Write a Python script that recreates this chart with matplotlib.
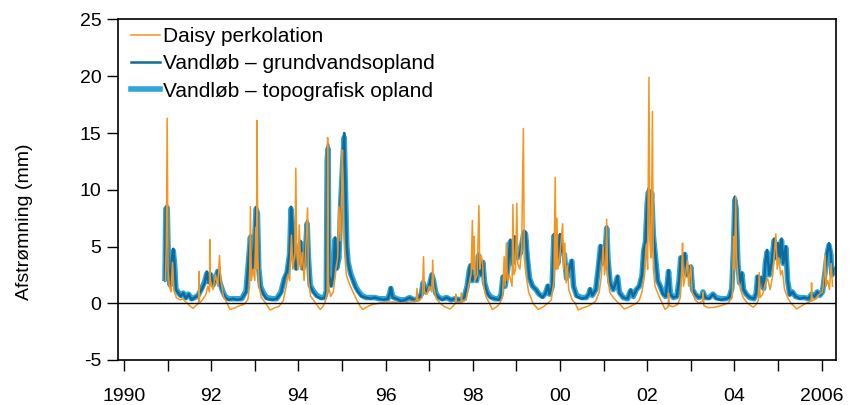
import matplotlib
matplotlib.use("Agg")
import matplotlib.pyplot as plt
from matplotlib.ticker import FixedLocator

plt.rcParams['font.family'] = ['Liberation Sans', 'DejaVu Sans']

# x-akse: år
year_ticks = list(range(1990, 2007))
year_labels = ['1990', '', '92', '', '94', '', '96', '', '98', '', '00', '', '02', '', '04', '', '2006']
y_ticks = [-5, 0, 5, 10, 15, 20, 25]

# Vandløb - grundvandsopland (mørkeblå) og topografisk opland (lyseblå), samme tidspunkter
blue_t = [1990.94, 1990.96, 1990.99, 1991.02, 1991.06, 1991.10, 1991.13, 1991.16, 1991.19, 1991.25,
          1991.30, 1991.36, 1991.42, 1991.48, 1991.55, 1991.62, 1991.70, 1991.78, 1991.85, 1991.90,
          1991.94, 1991.99, 1992.04, 1992.10, 1992.15, 1992.20, 1992.26, 1992.32, 1992.40, 1992.50,
          1992.60, 1992.70, 1992.80, 1992.86, 1992.90, 1992.94, 1992.99, 1993.03, 1993.06, 1993.09,
          1993.13, 1993.20, 1993.27, 1993.40, 1993.50, 1993.60, 1993.68, 1993.74, 1993.80, 1993.83,
          1993.86, 1993.90, 1993.95, 1994.00, 1994.05, 1994.10, 1994.15, 1994.20, 1994.23, 1994.27,
          1994.34, 1994.42, 1994.52, 1994.60, 1994.64, 1994.66, 1994.68, 1994.70, 1994.75, 1994.80,
          1994.84, 1994.88, 1994.93, 1994.97, 1995.02, 1995.05, 1995.08, 1995.11, 1995.14, 1995.20,
          1995.25, 1995.31, 1995.37, 1995.45, 1995.55, 1995.65, 1995.75, 1995.85, 1995.95, 1996.05,
          1996.09, 1996.12, 1996.16, 1996.25, 1996.35, 1996.45, 1996.55, 1996.65, 1996.75, 1996.82,
          1996.86, 1996.92, 1997.00, 1997.06, 1997.10, 1997.15, 1997.22, 1997.30, 1997.40, 1997.50,
          1997.60, 1997.70, 1997.80, 1997.87, 1997.92, 1997.95, 1997.99, 1998.04, 1998.09, 1998.13,
          1998.18, 1998.23, 1998.27, 1998.33, 1998.40, 1998.50, 1998.60, 1998.65, 1998.69, 1998.74,
          1998.80, 1998.86, 1998.90, 1998.96, 1999.02, 1999.09, 1999.17, 1999.21, 1999.25, 1999.30,
          1999.37, 1999.45, 1999.52, 1999.60, 1999.67, 1999.72, 1999.76, 1999.82, 1999.86, 1999.90,
          1999.95, 2000.00, 2000.05, 2000.10, 2000.15, 2000.21, 2000.27, 2000.31, 2000.38, 2000.50,
          2000.60, 2000.66, 2000.69, 2000.74, 2000.82, 2000.87, 2000.93, 2000.97, 2001.03, 2001.07,
          2001.10, 2001.15, 2001.22, 2001.28, 2001.32, 2001.36, 2001.45, 2001.55, 2001.62, 2001.68,
          2001.75, 2001.82, 2001.88, 2001.92, 2001.96, 2002.00, 2002.03, 2002.06, 2002.10, 2002.14,
          2002.19, 2002.24, 2002.30, 2002.36, 2002.42, 2002.46, 2002.49, 2002.53, 2002.60, 2002.68,
          2002.73, 2002.77, 2002.81, 2002.86, 2002.91, 2002.96, 2003.00, 2003.04, 2003.10, 2003.18,
          2003.25, 2003.28, 2003.33, 2003.42, 2003.51, 2003.58, 2003.70, 2003.80, 2003.88, 2003.94,
          2003.98, 2004.01, 2004.04, 2004.08, 2004.12, 2004.17, 2004.21, 2004.27, 2004.35, 2004.45,
          2004.50, 2004.53, 2004.57, 2004.62, 2004.67, 2004.71, 2004.75, 2004.80, 2004.85, 2004.91,
          2004.95, 2005.00, 2005.04, 2005.08, 2005.12, 2005.18, 2005.22, 2005.27, 2005.33, 2005.40,
          2005.50, 2005.60, 2005.70, 2005.77, 2005.84, 2005.90, 2005.96, 2006.02, 2006.08, 2006.13,
          2006.17, 2006.21, 2006.24, 2006.26]
grund_v = [2.0, 8.5, 8.6, 3.0, 1.5, 4.0, 4.8, 3.5, 1.2, 0.9,
           0.6, 0.9, 0.4, 0.8, 0.3, 0.5, 0.7, 1.2, 1.8, 2.8,
           1.8, 2.6, 1.5, 2.2, 2.9, 1.8, 1.0, 0.5, 0.3, 0.4,
           0.3, 0.4, 1.0, 4.0, 6.0, 3.0, 5.0, 8.5, 8.0, 3.0,
           1.4, 0.8, 0.4, 0.3, 0.4, 0.9, 2.2, 2.8, 4.5, 8.5,
           7.0, 4.0, 3.0, 4.5, 5.5, 3.0, 4.0, 7.3, 4.0, 1.5,
           1.0, 0.6, 0.4, 0.5, 1.0, 13.0, 14.0, 2.5, 1.5, 2.5,
           5.8, 3.0, 4.0, 9.0, 13.0, 15.0, 10.0, 5.0, 3.6, 2.5,
           2.0, 1.4, 1.0, 0.6, 0.5, 0.4, 0.5, 0.4, 0.3, 0.4,
           0.8, 1.4, 0.5, 0.4, 0.2, 0.3, 0.5, 0.3, 0.4, 0.8,
           1.9, 1.0, 1.5, 2.6, 2.0, 0.8, 0.5, 0.3, 0.5, 0.3,
           0.4, 0.3, 0.5, 1.5, 3.0, 3.4, 2.0, 2.4, 2.0, 4.4,
           2.5, 3.7, 1.8, 0.9, 0.5, 0.4, 0.3, 0.8, 2.4, 1.5,
           3.0, 5.6, 3.5, 5.9, 4.0, 4.5, 6.4, 6.3, 4.1, 2.2,
           1.5, 1.2, 0.8, 0.5, 0.9, 1.6, 0.8, 1.5, 6.1, 4.5,
           3.5, 6.1, 4.6, 4.4, 2.2, 3.0, 3.8, 1.5, 0.6, 0.4,
           0.5, 0.8, 1.3, 0.7, 1.2, 2.9, 5.1, 3.5, 4.0, 6.8,
           4.0, 1.8, 1.2, 1.8, 2.4, 0.9, 0.5, 0.4, 1.2, 0.6,
           1.2, 1.5, 2.5, 4.7, 5.5, 9.0, 10.1, 7.0, 10.0, 6.0,
           4.1, 2.0, 1.5, 0.8, 0.6, 1.8, 2.9, 0.8, 0.5, 0.6,
           2.0, 4.1, 3.0, 4.4, 2.5, 2.6, 3.3, 1.2, 0.8, 0.5,
           0.6, 1.0, 0.5, 0.4, 0.8, 0.4, 0.3, 0.4, 0.5, 1.3,
           5.0, 9.4, 8.5, 3.6, 1.8, 2.7, 1.2, 0.8, 0.5, 0.4,
           0.9, 2.4, 1.5, 2.3, 1.3, 3.6, 4.7, 2.5, 3.5, 5.7,
           4.0, 5.3, 4.0, 5.7, 3.5, 5.0, 2.0, 0.7, 1.0, 0.6,
           0.4, 0.5, 0.4, 0.8, 0.6, 1.0, 0.7, 1.0, 2.9, 4.5,
           5.3, 4.4, 2.5, 3.0]
topo_v = [2.2, 8.3, 8.4, 3.2, 1.6, 3.8, 4.6, 3.4, 1.3, 0.9,
          0.7, 0.9, 0.5, 0.8, 0.4, 0.5, 0.7, 1.3, 1.9, 2.6,
          1.9, 2.5, 1.6, 2.2, 2.8, 1.8, 1.1, 0.6, 0.4, 0.4,
          0.4, 0.4, 1.1, 3.9, 5.8, 3.1, 4.9, 8.3, 7.9, 3.1,
          1.5, 0.9, 0.5, 0.4, 0.4, 1.0, 2.2, 2.7, 4.4, 8.3,
          7.0, 4.1, 3.1, 4.4, 5.3, 3.1, 3.9, 7.0, 4.0, 1.6,
          1.1, 0.7, 0.5, 0.5, 1.1, 12.6, 13.6, 2.6, 1.6, 2.5,
          5.6, 3.1, 4.0, 8.8, 12.6, 14.6, 9.8, 5.0, 3.6, 2.6,
          2.1, 1.5, 1.1, 0.7, 0.5, 0.5, 0.5, 0.4, 0.4, 0.4,
          0.8, 1.3, 0.6, 0.4, 0.3, 0.3, 0.5, 0.3, 0.4, 0.8,
          1.8, 1.0, 1.5, 2.5, 2.0, 0.9, 0.5, 0.4, 0.5, 0.3,
          0.4, 0.3, 0.5, 1.5, 2.9, 3.3, 2.0, 2.3, 2.0, 4.2,
          2.5, 3.6, 1.8, 1.0, 0.6, 0.4, 0.4, 0.8, 2.3, 1.5,
          3.0, 5.4, 3.5, 5.7, 4.0, 4.4, 6.2, 6.1, 4.0, 2.2,
          1.5, 1.2, 0.8, 0.6, 0.9, 1.5, 0.8, 1.5, 5.9, 4.4,
          3.5, 5.9, 4.5, 4.3, 2.2, 3.0, 3.7, 1.5, 0.7, 0.5,
          0.5, 0.8, 1.2, 0.7, 1.2, 2.8, 5.0, 3.5, 3.9, 6.6,
          3.9, 1.8, 1.2, 1.8, 2.3, 1.0, 0.5, 0.4, 1.1, 0.6,
          1.2, 1.5, 2.4, 4.6, 5.4, 8.8, 9.8, 7.0, 9.7, 6.0,
          4.0, 2.0, 1.5, 0.9, 0.6, 1.7, 2.8, 0.9, 0.5, 0.6,
          2.0, 4.0, 3.0, 4.3, 2.5, 2.5, 3.2, 1.2, 0.8, 0.5,
          0.6, 1.0, 0.5, 0.5, 0.8, 0.5, 0.4, 0.4, 0.5, 1.3,
          4.9, 9.1, 8.3, 3.5, 1.8, 2.6, 1.2, 0.8, 0.5, 0.4,
          0.9, 2.3, 1.5, 2.2, 1.3, 3.5, 4.5, 2.5, 3.4, 5.5,
          4.0, 5.1, 4.0, 5.5, 3.5, 4.9, 2.0, 0.8, 1.0, 0.6,
          0.5, 0.5, 0.4, 0.8, 0.6, 1.0, 0.7, 1.0, 2.8, 4.4,
          5.1, 4.3, 2.5, 3.0]

# Daisy perkolation (orange)
daisy_t = [1990.95, 1990.97, 1990.99, 1991.01, 1991.04, 1991.08, 1991.11, 1991.14, 1991.20, 1991.28,
           1991.35, 1991.42, 1991.50, 1991.58, 1991.65, 1991.71, 1991.72, 1991.73, 1991.80, 1991.88,
           1991.92, 1991.96, 1991.97, 1991.98, 1992.04, 1992.10, 1992.15, 1992.19, 1992.22, 1992.28,
           1992.35, 1992.43, 1992.55, 1992.65, 1992.75, 1992.84, 1992.88, 1992.90, 1992.92, 1992.96,
           1993.00, 1993.02, 1993.04, 1993.05, 1993.07, 1993.10, 1993.15, 1993.25, 1993.35, 1993.45,
           1993.55, 1993.65, 1993.72, 1993.76, 1993.80, 1993.84, 1993.87, 1993.92, 1993.94, 1993.96,
           1993.99, 1994.02, 1994.05, 1994.09, 1994.13, 1994.17, 1994.21, 1994.23, 1994.28, 1994.36,
           1994.45, 1994.50, 1994.56, 1994.62, 1994.66, 1994.67, 1994.69, 1994.74, 1994.80, 1994.86,
           1994.90, 1994.93, 1994.96, 1994.99, 1995.01, 1995.03, 1995.06, 1995.10, 1995.16, 1995.25,
           1995.35, 1995.42, 1995.48, 1995.58, 1995.70, 1995.85, 1996.00, 1996.20, 1996.40, 1996.55,
           1996.70, 1996.72, 1996.74, 1996.84, 1996.87, 1996.89, 1996.95, 1997.00, 1997.06, 1997.08,
           1997.10, 1997.16, 1997.25, 1997.35, 1997.48, 1997.56, 1997.60, 1997.61, 1997.62, 1997.73,
           1997.74, 1997.75, 1997.85, 1997.90, 1997.96, 1997.99, 1998.01, 1998.03, 1998.05, 1998.10,
           1998.14, 1998.16, 1998.19, 1998.22, 1998.25, 1998.30, 1998.38, 1998.45, 1998.55, 1998.62,
           1998.68, 1998.72, 1998.74, 1998.77, 1998.79, 1998.84, 1998.90, 1998.92, 1998.94, 1998.98,
           1999.01, 1999.03, 1999.08, 1999.12, 1999.16, 1999.18, 1999.22, 1999.28, 1999.38, 1999.50,
           1999.62, 1999.72, 1999.80, 1999.86, 1999.89, 1999.91, 1999.93, 1999.95, 1999.99, 2000.06,
           2000.08, 2000.11, 2000.14, 2000.17, 2000.20, 2000.28, 2000.35, 2000.42, 2000.52, 2000.62,
           2000.72, 2000.82, 2000.90, 2000.95, 2000.99, 2001.02, 2001.05, 2001.07, 2001.09, 2001.14,
           2001.22, 2001.32, 2001.40, 2001.47, 2001.55, 2001.65, 2001.75, 2001.82, 2001.88, 2001.94,
           2001.98, 2002.01, 2002.04, 2002.06, 2002.09, 2002.12, 2002.14, 2002.18, 2002.25, 2002.32,
           2002.41, 2002.48, 2002.49, 2002.50, 2002.60, 2002.70, 2002.76, 2002.79, 2002.81, 2002.83,
           2002.88, 2002.92, 2002.95, 2003.00, 2003.03, 2003.10, 2003.18, 2003.27, 2003.28, 2003.30,
           2003.40, 2003.55, 2003.70, 2003.85, 2003.95, 2003.98, 2004.00, 2004.03, 2004.05, 2004.09,
           2004.14, 2004.20, 2004.30, 2004.43, 2004.50, 2004.55, 2004.57, 2004.59, 2004.65, 2004.70,
           2004.76, 2004.82, 2004.88, 2004.95, 2004.98, 2005.02, 2005.06, 2005.10, 2005.15, 2005.22,
           2005.30, 2005.43, 2005.55, 2005.65, 2005.76, 2005.77, 2005.78, 2005.88, 2005.95, 2006.02,
           2006.06, 2006.08, 2006.10, 2006.14, 2006.18, 2006.22, 2006.25]
daisy_v = [2.0, 5.0, 16.3, 3.0, 1.5, 1.0, 3.6, 1.2, 0.5, 0.3,
           0.4, 0.1, -0.2, -0.45, -0.2, 0.0, 2.8, 0.0, 0.3, 0.8,
           1.5, 1.0, 5.6, 2.0, 1.2, 2.5, 1.5, 4.2, 2.0, 0.6,
           0.1, -0.55, -0.4, -0.2, -0.1, 0.3, 1.5, 8.5, 2.0, 3.0,
           2.0, 6.7, 3.0, 16.1, 4.0, 1.5, 0.5, 0.0, -0.6, -0.4,
           -0.3, 0.2, 1.5, 2.5, 2.0, 6.0, 3.0, 4.5, 11.9, 5.0,
           3.0, 6.9, 3.0, 4.5, 2.0, 5.0, 8.4, 2.0, 0.6, 0.2,
           -0.3, -0.55, -0.3, 0.2, 1.0, 14.6, 1.5, 0.6, 1.0, 3.0,
           4.0, 8.5, 5.5, 10.0, 13.5, 7.0, 4.5, 2.5, 1.8, 1.0,
           0.2, -0.3, -0.55, -0.3, -0.1, 0.0, 0.1, 0.1, 0.0, 0.1,
           0.2, 1.3, 0.2, 0.5, 4.1, 1.0, 0.8, 1.5, 1.0, 3.8,
           1.5, 0.4, 0.0, -0.3, -0.5, -0.2, 0.0, 0.8, 0.0, 0.1,
           0.9, 0.1, 0.3, 1.5, 2.5, 7.3, 3.0, 5.9, 2.0, 2.5,
           8.6, 3.0, 4.2, 3.8, 1.5, 0.6, 0.0, -0.55, -0.3, 0.0,
           0.5, 4.1, 1.5, 5.3, 2.0, 2.5, 1.5, 8.7, 2.5, 3.0,
           8.8, 3.5, 3.0, 5.0, 15.4, 4.0, 2.5, 1.0, 0.0, -0.55,
           -0.3, 0.0, 0.3, 2.0, 11.1, 3.0, 7.5, 3.0, 4.0, 7.0,
           3.0, 5.3, 1.8, 3.3, 1.2, 0.3, 0.0, -0.6, -0.4, -0.3,
           -0.1, 0.2, 1.0, 2.5, 5.0, 2.5, 3.5, 7.4, 2.5, 1.0,
           0.5, 0.1, -0.2, -0.5, -0.4, -0.2, 0.0, 0.3, 1.0, 2.5,
           5.2, 3.0, 19.9, 5.5, 4.0, 16.9, 3.0, 1.5, 0.8, 0.2,
           -0.55, -0.3, 0.9, -0.2, -0.3, -0.1, 0.5, 2.5, 5.3, 1.5,
           2.5, 3.8, 1.5, 3.4, 1.0, 0.3, 0.0, 0.2, 1.0, -0.2,
           -0.4, -0.35, -0.2, 0.0, 0.5, 5.9, 3.0, 9.4, 4.0, 2.0,
           1.2, 0.5, 0.0, -0.35, -0.1, 0.3, 2.7, 0.5, 0.8, 1.6,
           2.2, 1.2, 2.5, 6.1, 3.0, 4.0, 2.5, 2.9, 1.2, 0.5,
           0.0, -0.5, -0.2, 0.0, 0.2, 1.8, 0.2, 0.4, 0.8, 1.0,
           2.5, 4.2, 1.5, 2.0, 1.2, 3.5, 1.5]

fig = plt.figure(figsize=(8.51, 4.05), dpi=100)
ax = fig.add_axes([118/851, 45/405, 718/851, 340.5/405])

ax.plot(blue_t, topo_v, color='#2ea6dc', lw=4.0, solid_joinstyle='round',
        label='Vandløb – topografisk opland', zorder=2)
ax.plot(blue_t, grund_v, color='#0d6a9c', lw=1.8,
        label='Vandløb – grundvandsopland', zorder=3)
ax.plot(daisy_t, daisy_v, color='#f7941d', lw=1.1,
        label='Daisy perkolation', zorder=4)
ax.axhline(0, color='black', lw=1.0, zorder=5)

ax.set_xlim(1989.862, 2006.33)
ax.set_ylim(-5, 25)
ax.xaxis.set_major_locator(FixedLocator(year_ticks))
ax.set_xticklabels(year_labels)
ax.set_yticks(y_ticks)
ax.set_yticklabels([str(v) for v in y_ticks])
ax.tick_params(axis='x', direction='out', length=8, width=1.0, pad=12, labelsize=14)
ax.tick_params(axis='y', direction='out', length=8, width=1.0, pad=4, labelsize=14)
for s in ax.spines.values():
    s.set_linewidth(1.2)
ax.set_ylabel('Afstrømning (mm)', fontsize=14)
ax.yaxis.set_label_coords(-0.118, 0.405)

handles, labels = ax.get_legend_handles_labels()
order = [2, 1, 0]
ax.legend([handles[i] for i in order], [labels[i] for i in order],
          loc='upper left', frameon=False, fontsize=15, handlelength=1.4,
          handletextpad=0.15, labelspacing=0.4, borderpad=0.1,
          bbox_to_anchor=(0.0, 1.015))

fig.savefig('out.png', dpi=100)
